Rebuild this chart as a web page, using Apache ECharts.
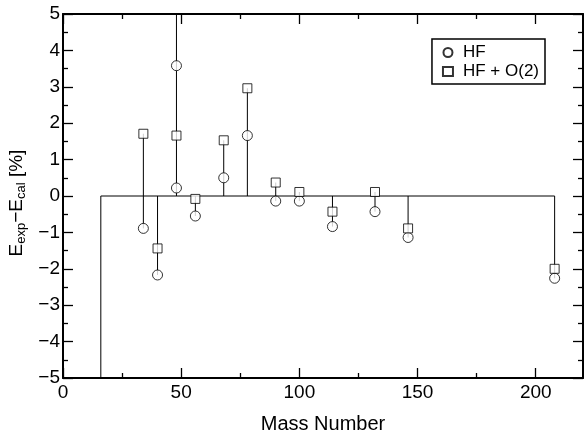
<!DOCTYPE html>
<html>
<head>
<meta charset="utf-8">
<script src="https://cdn.jsdelivr.net/npm/echarts@6/dist/echarts.min.js"></script>
<style>
  html, body { margin: 0; padding: 0; background: #fff; }
  #chart { width: 584px; height: 432px; }
</style>
</head>
<body>
<div id="chart"></div>
<script>
// Mass numbers of the nuclei (48 appears twice; 16 and one 48 point are off scale)
const massNumbers = [16, 34, 40, 48, 48, 56, 68, 78, 90, 100, 114, 132, 146, 208];
const hfValues = [-6.5, -0.89, -2.17, 3.58, 0.22, -0.55, 0.5, 1.66, -0.14, -0.14, -0.84, -0.43, -1.14, -2.26];
const hfO2Values = [-5.8, 1.71, -1.44, 1.66, 5.6, -0.08, 1.53, 2.96, 0.37, 0.11, -0.43, 0.11, -0.89, -2.0];

const X_TICKS = [0, 50, 100, 150, 200];
const Y_TICKS = [-5, -4, -3, -2, -1, 0, 1, 2, 3, 4, 5];
const X_MIN = 0, X_MAX = 220, Y_MIN = -5, Y_MAX = 5;

const FONT = "Liberation Sans";

const hfData = massNumbers.map((m, i) => [m, hfValues[i]]);
const hfO2Data = massNumbers.map((m, i) => [m, hfO2Values[i]]);

// vertical stems from 0 to the extreme values at each mass number
const stemMap = new Map();
massNumbers.forEach((m, i) => {
  const cur = stemMap.get(m) || [0, 0];
  cur[0] = Math.min(cur[0], hfValues[i], hfO2Values[i]);
  cur[1] = Math.max(cur[1], hfValues[i], hfO2Values[i]);
  stemMap.set(m, cur);
});
const stemData = Array.from(stemMap.entries()).map(([m, r]) => [
  m,
  Math.max(Y_MIN, r[0]),
  Math.min(Y_MAX, r[1]),
]);
const baseLine = [[Math.min(...massNumbers), 0], [Math.max(...massNumbers), 0]];

const chart = echarts.init(document.getElementById("chart"), null, { renderer: "canvas" });

const axisLine = { show: true, onZero: false, lineStyle: { color: "#000", width: 2 } };
const tickStyle = { show: true, inside: true, length: 10, lineStyle: { color: "#000", width: 1.3 } };
const minorStyle = { show: true, splitNumber: 2, length: 5, lineStyle: { color: "#000", width: 1.3 } };

chart.setOption({
  animation: false,
  textStyle: { fontFamily: FONT },
  grid: { left: 63, right: 1, top: 14, bottom: 54, containLabel: false, outerBoundsMode: "none" },
  legend: {
    right: 39,
    top: 39,
    orient: "vertical",
    itemWidth: 10,
    itemHeight: 9,
    itemGap: 2,
    padding: [5, 6, 4, 10],
    borderColor: "#000",
    borderWidth: 1.5,
    textStyle: { fontFamily: FONT, fontSize: 17, color: "#000", padding: [0, 0, 0, 5] },
    data: ["HF", "HF + O(2)"],
  },
  xAxis: [
    {
      type: "value",
      min: X_MIN,
      max: X_MAX,
      interval: 50,
      name: "Mass Number",
      nameLocation: "middle",
      nameGap: 36,
      nameTextStyle: { fontFamily: FONT, fontSize: 20, color: "#000" },
      axisLine,
      axisTick: tickStyle,
      minorTick: minorStyle,
      splitLine: { show: false },
      axisLabel: {
        fontFamily: FONT,
        fontSize: 19,
        color: "#000",
        margin: 5,
        formatter: (v) => (X_TICKS.includes(v) ? String(v) : ""),
      },
    },
    {
      type: "value",
      position: "top",
      min: X_MIN,
      max: X_MAX,
      interval: 50,
      axisLine,
      axisTick: tickStyle,
      minorTick: minorStyle,
      splitLine: { show: false },
      axisLabel: { show: false },
    },
  ],
  yAxis: [
    {
      type: "value",
      min: Y_MIN,
      max: Y_MAX,
      interval: 1,
      name: "{m|E}{s|exp}{m|\u2212E}{s|cal}{m| [%]}",
      nameLocation: "middle",
      nameGap: 33,
      nameTextStyle: {
        padding: [0, 14, 0, 0],
        rich: {
          m: { fontFamily: FONT, fontSize: 19, color: "#000" },
          s: { fontFamily: FONT, fontSize: 13, color: "#000", padding: [9, 0, 0, 0] },
        },
      },
      axisLine,
      axisTick: tickStyle,
      minorTick: minorStyle,
      splitLine: { show: false },
      axisLabel: {
        fontFamily: FONT,
        fontSize: 19,
        color: "#000",
        margin: 3,
        formatter: (v) => (Y_TICKS.includes(v) ? String(v).replace("-", "\u2212") : ""),
      },
    },
    {
      type: "value",
      position: "right",
      min: Y_MIN,
      max: Y_MAX,
      interval: 1,
      axisLine,
      axisTick: tickStyle,
      minorTick: minorStyle,
      splitLine: { show: false },
      axisLabel: { show: false },
    },
  ],
  series: [
    {
      name: "base",
      type: "line",
      data: baseLine,
      showSymbol: false,
      lineStyle: { color: "#000", width: 1 },
      silent: true,
      z: 1,
    },
    {
      name: "stems",
      type: "custom",
      data: stemData,
      silent: true,
      z: 1,
      renderItem: (params, api) => {
        const p1 = api.coord([api.value(0), api.value(1)]);
        const p2 = api.coord([api.value(0), api.value(2)]);
        return {
          type: "line",
          shape: { x1: p1[0], y1: p1[1], x2: p2[0], y2: p2[1] },
          style: { stroke: "#000", lineWidth: 1 },
        };
      },
    },
    {
      name: "HF",
      type: "scatter",
      data: hfData,
      symbol: "circle",
      symbolSize: 10,
      clip: true,
      itemStyle: { color: "#fff", borderColor: "#000", borderWidth: 1 },
      z: 3,
    },
    {
      name: "HF + O(2)",
      type: "scatter",
      data: hfO2Data,
      symbol: "rect",
      symbolSize: 9,
      clip: true,
      itemStyle: { color: "#fff", borderColor: "#000", borderWidth: 1 },
      z: 4,
    },
  ],
});
</script>
</body>
</html>
